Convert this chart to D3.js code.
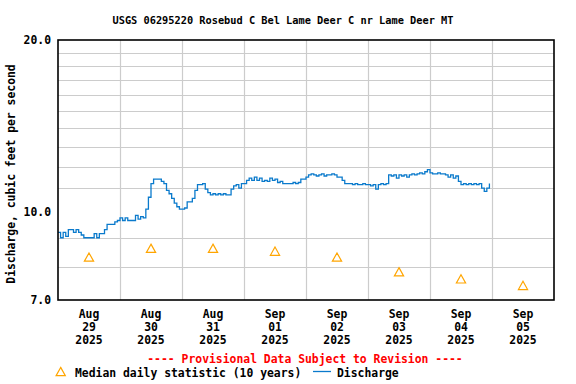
<!DOCTYPE html>
<meta charset="utf-8">
<head>
<style>
body { margin: 0; background: #ffffff; }
text { font-family: "DejaVu Sans Mono", "Liberation Mono", monospace; font-weight: bold; fill: #000; }
</style>
</head>
<script src="https://d3js.org/d3.v7.min.js"></script>
<div id="chart"></div>
<script>

// hourly discharge (cfs), starting Aug 29 2025 00:00, one row per day
var startTime = Date.UTC(2025, 7, 29, 0, 0);
var discharge = [
  // Aug 29
  9.2, 9.0, 9.2, 9.05, 9.3, 9.3, 9.2, 9.3, 9.2, 9.1, 9.0, 9.0,
  9.0, 9.0, 9.15, 9.0, 9.15, 9.15, 9.3, 9.5, 9.5, 9.5, 9.6, 9.65,
  // Aug 30
  9.75, 9.65, 9.75, 9.65, 9.65, 9.65, 9.85, 9.7, 9.8, 9.75, 10.1, 10.6,
  11.2, 11.4, 11.4, 11.4, 11.3, 11.2, 10.9, 10.75, 10.55, 10.35, 10.2, 10.1,
  // Aug 31
  10.1, 10.15, 10.4, 10.4, 10.55, 10.9, 11.15, 11.15, 11.2, 10.95, 10.8, 10.7,
  10.75, 10.7, 10.75, 10.7, 10.75, 10.7, 10.7, 10.95, 11.1, 11.15, 11.0, 11.2,
  // Sep 01
  11.2, 11.35, 11.45, 11.35, 11.5, 11.35, 11.45, 11.3, 11.35, 11.3, 11.45, 11.35,
  11.4, 11.25, 11.3, 11.2, 11.2, 11.2, 11.2, 11.25, 11.2, 11.25, 11.4, 11.4,
  // Sep 02
  11.5, 11.6, 11.65, 11.6, 11.55, 11.6, 11.65, 11.55, 11.6, 11.6, 11.65, 11.6,
  11.5, 11.5, 11.35, 11.2, 11.2, 11.2, 11.15, 11.2, 11.15, 11.15, 11.2, 11.15,
  // Sep 03
  11.15, 11.1, 11.15, 10.95, 11.15, 11.2, 11.15, 11.2, 11.6, 11.55, 11.6, 11.45,
  11.6, 11.55, 11.6, 11.5, 11.6, 11.65, 11.6, 11.65, 11.7, 11.65, 11.75, 11.85,
  // Sep 04
  11.7, 11.65, 11.65, 11.7, 11.65, 11.65, 11.6, 11.5, 11.6, 11.45, 11.55, 11.3,
  11.15, 11.2, 11.15, 11.2, 11.15, 11.2, 11.15, 11.2, 11.0, 10.85, 11.0, 11.2
];

// median daily statistic (10 years), plotted at noon of each day
var medianDays = ["2025-08-29", "2025-08-30", "2025-08-31", "2025-09-01",
                  "2025-09-02", "2025-09-03", "2025-09-04", "2025-09-05"];
var medianValues = [8.32, 8.62, 8.62, 8.52, 8.32, 7.84, 7.62, 7.42];

// axis labels
var dayLabels = [["Aug", "29", "2025"], ["Aug", "30", "2025"], ["Aug", "31", "2025"],
                 ["Sep", "01", "2025"], ["Sep", "02", "2025"], ["Sep", "03", "2025"],
                 ["Sep", "04", "2025"], ["Sep", "05", "2025"]];
var yTickValues = [7, 10, 20];
var yGridValues = [8, 9, 11, 12, 13, 14, 15, 16, 17, 18, 19];

var W = 576, H = 384;
var plot = {left: 58, right: 554, top: 40, bottom: 300};

var svg = d3.select("#chart").append("svg")
    .attr("width", W)
    .attr("height", H);

var x = d3.scaleUtc()
  .domain([new Date(Date.UTC(2025, 7, 29)), new Date(Date.UTC(2025, 8, 6))])
  .range([plot.left, plot.right]);
var y = d3.scaleLog()
  .domain([7, 20])
  .range([plot.bottom, plot.top]);

// title
svg.append("text")
  .attr("x", 283).attr("y", 24)
  .attr("text-anchor", "middle")
  .style("font-size", "10.3px")
  .text("USGS 06295220 Rosebud C Bel Lame Deer C nr Lame Deer MT");

// horizontal grid
svg.append("g").selectAll("line")
  .data(yGridValues)
  .enter().append("line")
    .attr("x1", plot.left).attr("x2", plot.right)
    .attr("y1", function(d) { return Math.round(y(d)) + 0.5; })
    .attr("y2", function(d) { return Math.round(y(d)) + 0.5; })
    .attr("stroke", "#cccccc")
    .attr("stroke-width", 1.2);

// vertical grid at midnight
var midnights = d3.utcDay.range(new Date(Date.UTC(2025, 7, 30)), new Date(Date.UTC(2025, 8, 6)));
svg.append("g").selectAll("line")
  .data(midnights)
  .enter().append("line")
    .attr("x1", function(d) { return Math.round(x(d)) + 0.5; })
    .attr("x2", function(d) { return Math.round(x(d)) + 0.5; })
    .attr("y1", plot.top).attr("y2", plot.bottom)
    .attr("stroke", "#cccccc")
    .attr("stroke-width", 1.2);

// discharge line
var series = discharge.map(function(v, i) {
  return { t: new Date(startTime + i * 3600000), v: v };
});
var line = d3.line()
  .curve(d3.curveStepAfter)
  .x(function(d) { return x(d.t); })
  .y(function(d) { return y(d.v); });
svg.append("path")
  .datum(series)
  .attr("d", line)
  .attr("fill", "none")
  .attr("stroke", "#0a7acc")
  .attr("stroke-width", 1.3);

// median triangles
function tri(cx, cy) {
  return "M" + cx + "," + (cy - 4.3) + "L" + (cx + 4.6) + "," + (cy + 4) +
         "L" + (cx - 4.6) + "," + (cy + 4) + "Z";
}
svg.append("g").selectAll("path")
  .data(medianDays)
  .enter().append("path")
    .attr("d", function(d, i) {
      var t = new Date(d + "T12:00:00Z");
      return tri(x(t), y(medianValues[i]));
    })
    .attr("fill", "none")
    .attr("stroke", "#ffa500")
    .attr("stroke-width", 1.2);

// frame
svg.append("rect")
  .attr("x", plot.left).attr("y", plot.top)
  .attr("width", plot.right - plot.left).attr("height", plot.bottom - plot.top)
  .attr("fill", "none")
  .attr("stroke", "#000")
  .attr("stroke-width", 1.6);

// y tick labels
svg.append("g").selectAll("text")
  .data(yTickValues)
  .enter().append("text")
    .attr("x", 51)
    .attr("y", function(d) { return y(d); })
    .attr("dy", "0.35em")
    .attr("text-anchor", "end")
    .style("font-size", "11.4px")
    .text(function(d) { return d.toFixed(1); });

// y axis title
svg.append("text")
  .attr("transform", "translate(15,174) rotate(-90)")
  .attr("text-anchor", "middle")
  .style("font-size", "11.4px")
  .text("Discharge, cubic feet per second");

// x tick labels at noon
var xl = svg.append("g").selectAll("text")
  .data(medianDays)
  .enter().append("text")
    .attr("text-anchor", "middle")
    .style("font-size", "11.4px")
    .attr("transform", function(d) {
      return "translate(" + x(new Date(d + "T12:00:00Z")) + ",318)";
    });
xl.each(function(d, i) {
  var t = d3.select(this);
  dayLabels[i].forEach(function(s, k) {
    t.append("tspan").attr("x", 0).attr("y", k * 13).text(s);
  });
});

// provisional note
svg.append("text")
  .attr("x", 305).attr("y", 363)
  .attr("text-anchor", "middle")
  .style("font-size", "11.4px")
  .style("fill", "#ff0000")
  .text("---- Provisional Data Subject to Revision ----");

// legend
svg.append("path")
  .attr("d", tri(60.7, 371.7))
  .attr("fill", "none")
  .attr("stroke", "#ffa500")
  .attr("stroke-width", 1.2);
svg.append("text")
  .attr("x", 75).attr("y", 377)
  .style("font-size", "11.4px")
  .text("Median daily statistic (10 years)");
svg.append("line")
  .attr("x1", 313).attr("x2", 331)
  .attr("y1", 371.5).attr("y2", 371.5)
  .attr("stroke", "#0a7acc")
  .attr("stroke-width", 1.3);
svg.append("text")
  .attr("x", 337).attr("y", 377)
  .style("font-size", "11.4px")
  .text("Discharge");

</script>
